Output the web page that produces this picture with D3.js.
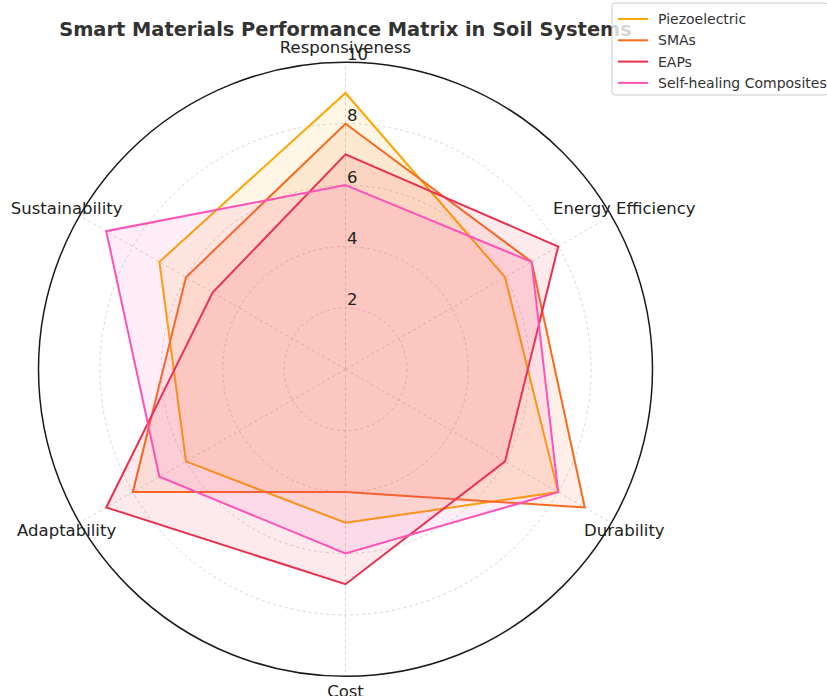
<!DOCTYPE html>
<html>
<head>
<meta charset="utf-8">
<script src="https://cdn.jsdelivr.net/npm/d3@7"></script>
<style>
  body { margin: 0; background: #fff; }
  text { font-family: "DejaVu Sans", sans-serif; }
</style>
</head>
<body>
<div id="chart"></div>
<script>
var svgWidth = 827;
var svgHeight = 696;

// chart data
var categories = ["Responsiveness", "Energy Efficiency", "Durability", "Cost", "Adaptability", "Sustainability"];
var seriesNames = ["Piezoelectric", "SMAs", "EAPs", "Self-healing Composites"];
var piezoelectric = [9, 6, 8, 5, 6, 7];
var smas = [8, 7, 9, 4, 8, 6];
var eaps = [7, 8, 6, 7, 9, 5];
var selfHealing = [6, 7, 8, 6, 7, 9];
var radialTicks = [2, 4, 6, 8, 10];
var colors = ["#FFA500", "#F96A1F", "#EB2F4E", "#FF52B8"];

var seriesValues = [piezoelectric, smas, eaps, selfHealing];

var cx = 345.5, cy = 369.3;
var outerR = 307;

var svg = d3.select("#chart")
    .append("svg")
    .attr("width", svgWidth)
    .attr("height", svgHeight);

var chartGroup = svg.append("g")
    .attr("transform", `translate(${cx}, ${cy})`);

var rScale = d3.scaleLinear().domain([0, 10]).range([0, outerR]);
var angle = d3.scalePoint()
    .domain(categories)
    .range([0, 2 * Math.PI * (categories.length - 1) / categories.length]);

//Grid circles
chartGroup.selectAll(".grid-circle")
    .data(radialTicks.slice(0, -1))
    .enter()
    .append("circle")
    .attr("r", d => rScale(d))
    .attr("fill", "none")
    .attr("stroke", "#cccccc")
    .attr("stroke-width", 0.8)
    .attr("stroke-dasharray", "3,3");

//Spokes
chartGroup.selectAll(".spoke")
    .data(categories)
    .enter()
    .append("line")
    .attr("x1", 0).attr("y1", 0)
    .attr("x2", d => rScale(10) * Math.sin(angle(d)))
    .attr("y2", d => -rScale(10) * Math.cos(angle(d)))
    .attr("stroke", "#cccccc")
    .attr("stroke-width", 0.8)
    .attr("stroke-dasharray", "3,3");

//Series polygons
var radarLine = d3.lineRadial()
    .angle((d, i) => angle(categories[i]))
    .radius(d => rScale(d))
    .curve(d3.curveLinearClosed);

seriesValues.forEach(function(vals, i) {
    chartGroup.append("path")
        .attr("d", radarLine(vals))
        .attr("fill", colors[i])
        .attr("fill-opacity", 0.1)
        .attr("stroke", "none");
    chartGroup.append("path")
        .attr("d", radarLine(vals))
        .attr("fill", "none")
        .attr("stroke", colors[i])
        .attr("stroke-width", 2)
        .attr("stroke-linejoin", "miter");
});

//Outer circle
chartGroup.append("circle")
    .attr("r", rScale(10))
    .attr("fill", "none")
    .attr("stroke", "#1a1a1a")
    .attr("stroke-width", 1.5);

//Radial tick labels
chartGroup.selectAll(".rtick")
    .data(radialTicks)
    .enter()
    .append("text")
    .attr("x", 1.5)
    .attr("y", d => -rScale(d) - 2.5)
    .attr("font-size", "16.5px")
    .attr("fill", "#222222")
    .text(d => d);

//Category labels
chartGroup.selectAll(".cat")
    .data(categories)
    .enter()
    .append("text")
    .attr("x", d => 322 * Math.sin(angle(d)))
    .attr("y", d => -322 * Math.cos(angle(d)))
    .attr("text-anchor", "middle")
    .attr("dominant-baseline", "central")
    .attr("font-size", "16.5px")
    .attr("fill", "#222222")
    .text(d => d);

//Title
svg.append("text")
    .attr("x", cx)
    .attr("y", 36)
    .attr("text-anchor", "middle")
    .attr("font-size", "19.4px")
    .attr("font-weight", "bold")
    .attr("fill", "#333333")
    .text("Smart Materials Performance Matrix in Soil Systems");

//Legend
var legend = svg.append("g")
    .attr("transform", "translate(612, 3)");

legend.append("rect")
    .attr("width", 216)
    .attr("height", 92)
    .attr("rx", 3)
    .attr("fill", "#ffffff")
    .attr("fill-opacity", 0.8)
    .attr("stroke", "#cccccc")
    .attr("stroke-width", 1);

var items = legend.selectAll(".item")
    .data(seriesNames)
    .enter()
    .append("g")
    .attr("transform", (d, i) => `translate(0, ${16 + i * 21.3})`);

items.append("line")
    .attr("x1", 6).attr("x2", 36)
    .attr("stroke", (d, i) => colors[i])
    .attr("stroke-width", 2);

items.append("text")
    .attr("x", 46)
    .attr("dominant-baseline", "central")
    .attr("font-size", "14px")
    .attr("fill", "#333333")
    .text(d => d);
</script>
</body>
</html>
